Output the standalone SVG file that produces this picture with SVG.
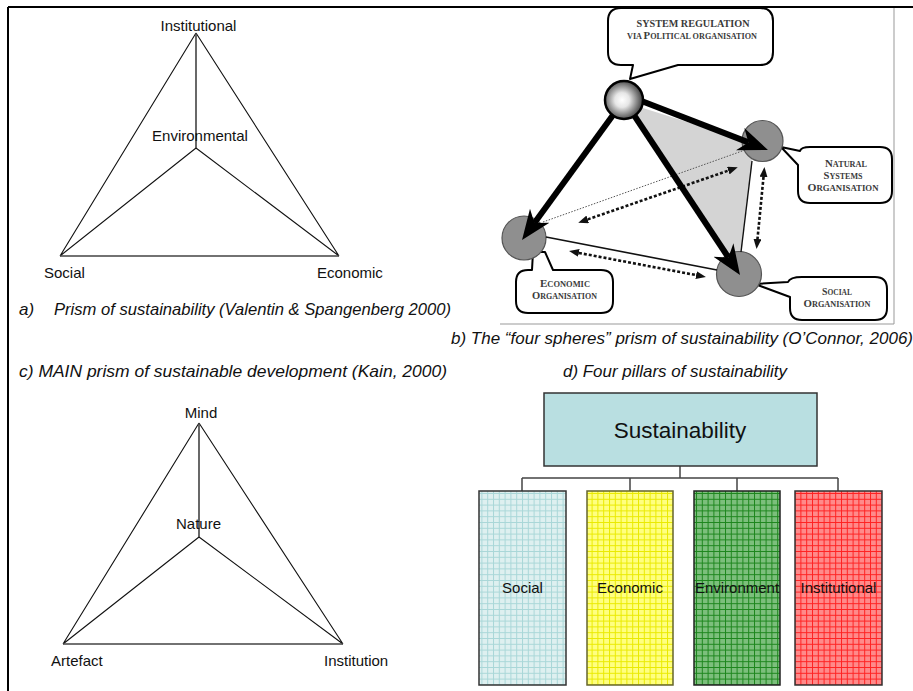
<svg xmlns="http://www.w3.org/2000/svg" width="913" height="691" viewBox="0 0 913 691">
<style>
.lbl{font-family:"Liberation Sans",Arial,sans-serif;font-size:15px;fill:#111}
.cap{font-family:"Liberation Sans",Arial,sans-serif;font-size:17px;font-style:italic;fill:#111}
.sc{font-family:"Liberation Serif","Times New Roman",serif;font-weight:bold;fill:#3a3a3a;text-anchor:middle}
.big{font-size:10.5px}
.sm{font-size:8px}
.tri{fill:none;stroke:#111;stroke-width:1.1}
.trib{fill:none;stroke:#444;stroke-width:1.6}
.thick{fill:none;stroke:#000;stroke-width:6;marker-end:url(#bigHead)}
.dots{fill:none;stroke:#111;stroke-width:2.6;stroke-dasharray:3 2;marker-start:url(#smallHead);marker-end:url(#smallHead)}
.thin{fill:none;stroke:#555;stroke-width:1;stroke-dasharray:1.5 1.5}
.call{fill:#fff;stroke:#000;stroke-width:2;stroke-linejoin:round}
.node{fill:#8f8f8f;stroke:#555;stroke-width:1.2}
.pill{stroke-width:1.5}
.conn{fill:none;stroke:#444;stroke-width:1.5}
</style>
<defs>
<marker id="bigHead" markerUnits="userSpaceOnUse" viewBox="0 0 30 26" refX="9" refY="13" markerWidth="30" markerHeight="26" orient="auto">
<path d="M0,1 L30,13 L0,25 L9,13 Z" fill="#000"/>
</marker>
<marker id="smallHead" markerUnits="userSpaceOnUse" viewBox="0 0 10 8" refX="5" refY="4" markerWidth="10" markerHeight="8" orient="auto-start-reverse">
<path d="M0,0 L10,4 L0,8 Z" fill="#111"/>
</marker>
<radialGradient id="sphereGrad" cx="0.45" cy="0.5" r="0.55">
<stop offset="0" stop-color="#ffffff"/>
<stop offset="0.35" stop-color="#e6e6e6"/>
<stop offset="1" stop-color="#3a3a3a"/>
</radialGradient>
<pattern id="gSoc" patternUnits="userSpaceOnUse" width="5.8" height="5.8">
<rect width="5.8" height="5.8" fill="#def0f0"/>
<path d="M0,0.5 H5.8 M0.5,0 V5.8" stroke="#a9d7d8" stroke-width="1"/>
</pattern>
<pattern id="gEco" patternUnits="userSpaceOnUse" width="5.8" height="5.8">
<rect width="5.8" height="5.8" fill="#ffff80"/>
<path d="M0,0.5 H5.8 M0.5,0 V5.8" stroke="#eaea00" stroke-width="1"/>
</pattern>
<pattern id="gEnv" patternUnits="userSpaceOnUse" width="5.8" height="5.8">
<rect width="5.8" height="5.8" fill="#7cbf7c"/>
<path d="M0,0.5 H5.8 M0.5,0 V5.8" stroke="#1d861d" stroke-width="1"/>
</pattern>
<pattern id="gIns" patternUnits="userSpaceOnUse" width="5.8" height="5.8">
<rect width="5.8" height="5.8" fill="#ff8a8a"/>
<path d="M0,0.5 H5.8 M0.5,0 V5.8" stroke="#ff2222" stroke-width="1"/>
</pattern>
</defs>

<rect width="913" height="691" fill="#fff"/>
<!-- outer frame (top and left only) -->
<path d="M8,7 H913 M8,7 V691" fill="none" stroke="#000" stroke-width="2"/>

<!-- Panel a -->
<g id="prism-a">
<path class="tri" d="M196,33 L60,256 M196,33 L339,256 M60,256 L196,148 L339,256"/>
<path class="trib" d="M196,33 V148 M60,256 H339"/>
<text class="lbl" x="198.5" y="31" text-anchor="middle">Institutional</text>
<text class="lbl" x="200" y="141" text-anchor="middle">Environmental</text>
<text class="lbl" x="44" y="278">Social</text>
<text class="lbl" x="317" y="278">Economic</text>
<text class="cap" x="19" y="315">a)</text>
<text class="cap" x="54" y="315" textLength="397" lengthAdjust="spacingAndGlyphs">Prism of sustainability (Valentin &amp; Spangenberg 2000)</text>
</g>

<!-- Panel c -->
<g id="prism-c">
<path class="tri" d="M199,423 L63,644 M199,423 L343,644 M63,644 L199,537 L343,644"/>
<path class="trib" d="M199,423 V537 M63,644 H343"/>
<text class="lbl" x="201" y="418" text-anchor="middle">Mind</text>
<text class="lbl" x="198.5" y="529" text-anchor="middle">Nature</text>
<text class="lbl" x="51" y="666">Artefact</text>
<text class="lbl" x="324" y="666">Institution</text>
<text class="cap" x="19" y="377" textLength="428" lengthAdjust="spacingAndGlyphs">c) MAIN prism of sustainable development (Kain, 2000)</text>
</g>

<!-- Panel b -->
<g id="panel-b-frame">
<path d="M894,8 V324 H500" fill="none" stroke="#999" stroke-width="1"/>
</g>
<g id="shade">
<polygon points="630,104 748,141 752,160 741,253 728,256" fill="#d4d4d4"/>
</g>
<g id="natural-systems">
<path class="call" d="M810,147 H880 Q892,147 892,159 V191 Q892,203 880,203 H810 Q798,203 798,191 V165 L781,147 L800,151 Q801,147 810,147 Z"/>
<circle class="node" cx="762.5" cy="141" r="20.5"/>
<text class="sc" x="846" y="167" textLength="42" lengthAdjust="spacingAndGlyphs"><tspan class="big">N</tspan><tspan class="sm">ATURAL</tspan></text>
<text class="sc" x="843" y="179" textLength="39" lengthAdjust="spacingAndGlyphs"><tspan class="big">S</tspan><tspan class="sm">YSTEMS</tspan></text>
<text class="sc" x="843" y="190.5" textLength="71" lengthAdjust="spacingAndGlyphs"><tspan class="big">O</tspan><tspan class="sm">RGANISATION</tspan></text>
</g>
<g id="economic-organisation">
<path class="call" d="M528,270 H532 L533,252 L545,252 L553,270 H601 Q613,270 613,282 V301 Q613,313 601,313 H528 Q516,313 516,301 V282 Q516,270 528,270 Z"/>
<circle class="node" cx="524" cy="238" r="22"/>
<text class="sc" x="565" y="287" textLength="50" lengthAdjust="spacingAndGlyphs"><tspan class="big">E</tspan><tspan class="sm">CONOMIC</tspan></text>
<text class="sc" x="564.5" y="299" textLength="65" lengthAdjust="spacingAndGlyphs"><tspan class="big">O</tspan><tspan class="sm">RGANISATION</tspan></text>
</g>
<g id="social-organisation">
<path class="call" d="M802,277 H875 Q887,277 887,289 V308 Q887,320 875,320 H802 Q790,320 790,308 V297 L755,284 L788,282 Q790,277 802,277 Z"/>
<circle class="node" cx="739" cy="274" r="22.5"/>
<text class="sc" x="837" y="295" textLength="30" lengthAdjust="spacingAndGlyphs"><tspan class="big">S</tspan><tspan class="sm">OCIAL</tspan></text>
<text class="sc" x="837" y="307" textLength="67" lengthAdjust="spacingAndGlyphs"><tspan class="big">O</tspan><tspan class="sm">RGANISATION</tspan></text>
</g>
<g id="connectors-b">
<line x1="752" y1="161" x2="741" y2="252" stroke="#111" stroke-width="1.4"/>
<line x1="546" y1="237" x2="717" y2="270" stroke="#111" stroke-width="1.6"/>
<line class="thin" x1="543" y1="222" x2="745" y2="150"/>
<line class="dots" x1="583" y1="221" x2="733" y2="169"/>
<line class="dots" x1="574" y1="252" x2="701" y2="276"/>
<line class="dots" x1="764" y1="172" x2="757" y2="244"/>
<line class="thick" x1="626" y1="95" x2="748.4" y2="142.4"/>
<line class="thick" x1="624" y1="100" x2="534.4" y2="223"/>
<line class="thick" x1="624" y1="100" x2="728.4" y2="257.5"/>
</g>
<g id="system-regulation">
<path class="call" d="M621,8 H760 Q773,8 773,21 V52 Q773,65 760,65 H678 L630,79 L633,65 H621 Q608,65 608,52 V21 Q608,8 621,8 Z"/>
<text class="sc big" x="693" y="27" textLength="113" lengthAdjust="spacingAndGlyphs">SYSTEM REGULATION</text>
<text class="sc" x="692" y="39" textLength="130" lengthAdjust="spacingAndGlyphs"><tspan class="sm">VIA </tspan><tspan class="big">P</tspan><tspan class="sm">OLITICAL ORGANISATION</tspan></text>
<circle cx="624" cy="100" r="19" fill="url(#sphereGrad)" stroke="#000" stroke-width="2.5"/>
</g>
<text class="cap" x="451" y="344">b) The “four spheres” prism of sustainability (O’Connor, 2006)</text>

<!-- Panel d -->
<text class="cap" x="563" y="377" textLength="224" lengthAdjust="spacingAndGlyphs">d) Four pillars of sustainability</text>
<g id="connectors-d">
<path class="conn" d="M680,466 V478 M522,478 H838 M522,478 V491 M630,478 V491 M737,478 V491 M838,478 V491"/>
</g>
<g id="sustainability">
<rect x="544" y="393" width="273" height="73" fill="#b9dfe1" stroke="#333" stroke-width="1.5"/>
<text x="680" y="438" text-anchor="middle" style="font-family:'Liberation Sans',Arial,sans-serif;font-size:22.5px;fill:#111">Sustainability</text>
</g>
<g id="pillar-social">
<rect class="pill" x="479" y="491" width="87" height="194" fill="url(#gSoc)" stroke="#333"/>
<text class="lbl" x="522.5" y="593" text-anchor="middle">Social</text>
</g>
<g id="pillar-economic">
<rect class="pill" x="587" y="491" width="86" height="194" fill="url(#gEco)" stroke="#66662e"/>
<text class="lbl" x="630" y="593" text-anchor="middle">Economic</text>
</g>
<g id="pillar-environment">
<rect class="pill" x="694" y="491" width="86" height="194" fill="url(#gEnv)" stroke="#222"/>
<text class="lbl" x="737" y="593" text-anchor="middle">Environment</text>
</g>
<g id="pillar-institutional">
<rect class="pill" x="795" y="491" width="87" height="194" fill="url(#gIns)" stroke="#333"/>
<text class="lbl" x="838.5" y="593" text-anchor="middle">Institutional</text>
</g>
</svg>
